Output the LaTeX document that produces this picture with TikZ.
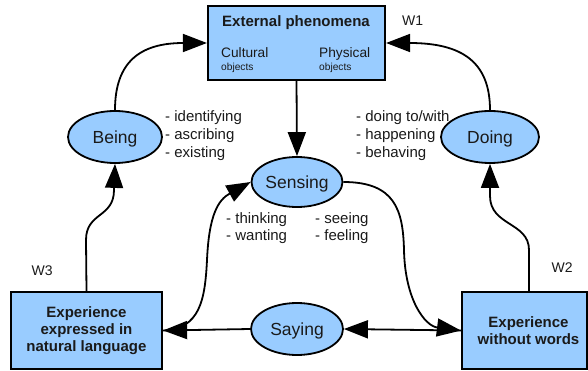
\documentclass[tikz,border=0pt]{standalone}
\usepackage{fontspec}
\setmainfont{Liberation Sans}
\usetikzlibrary{arrows.meta,shapes.geometric}
\definecolor{boxblue}{HTML}{99CCFF}
\definecolor{txt}{HTML}{1A1A1A}
\begin{document}
\begin{tikzpicture}[x=1pt,y=-1pt,
  frame/.style={draw=black,line width=2.2pt,fill=boxblue,rectangle,inner sep=0pt,text=txt},
  oval/.style={draw=black,line width=1.8pt,fill=boxblue,ellipse,inner sep=0pt,text depth=0pt,text=txt,font=\fontsize{17.5}{20}\selectfont},
  conn/.style={line width=1.8pt,-{Triangle[length=24pt,width=18pt]}},
  lbl/.style={inner sep=0pt,anchor=base west,text=txt,font=\fontsize{14}{17}\selectfont},
  item/.style={lbl,font=\fontsize{15}{17}\selectfont},
  small/.style={inner sep=0pt,anchor=base west,text=txt,font=\fontsize{10.2}{12}\selectfont},
  bt/.style={font=\bfseries\fontsize{15}{16.8}\selectfont,align=center}]
\useasboundingbox (0,0) rectangle (588,371);
% boxes
\node[frame,minimum width=177pt,minimum height=74pt] (ext) at (296.5,43) {};
\node[frame,bt,minimum width=151pt,minimum height=77pt] (bl) at (86.5,330.5) {Experience\\expressed in\\natural language};
\node[frame,bt,minimum width=125pt,minimum height=77pt,font=\bfseries\fontsize{15}{17.5}\selectfont] (br) at (524.5,330.5) {\hspace*{8pt}Experience\\\hspace*{8pt}without words};
% texts in the top box
\node[inner sep=0pt,anchor=base,text=txt,font=\bfseries\fontsize{15}{18}\selectfont] (exttitle) at (296,26.7) {External phenomena};
\node[lbl,font=\fontsize{13.7}{16}\selectfont] (cult) at (221,58) {Cultural};
\node[small] (cultobj) at (221,70.6) {objects};
\node[lbl,font=\fontsize{13.7}{16}\selectfont] (phys) at (319,58) {Physical};
\node[small] (physobj) at (319,70.6) {objects};
% ellipses
\node[oval,minimum width=94pt,minimum height=52pt] (being) at (115,137) {Being};
\node[oval,minimum width=98pt,minimum height=52pt] (doing) at (490,137) {Doing};
\node[oval,minimum width=91pt,minimum height=50pt] (sensing) at (297,182) {Sensing};
\node[oval,minimum width=92pt,minimum height=52pt] (saying) at (297,329) {Saying};
% lists
\node[item] (l1) at (165,121.7) {- identifying};
\node[item] (l2) at (165,139.5) {- ascribing};
\node[item] (l3) at (165,157.3) {- existing};
\node[item] (r1) at (356,121.7) {- doing to/with};
\node[item] (r2) at (356,139.5) {- happening};
\node[item] (r3) at (356,157.3) {- behaving};
\node[item] (s1) at (226,223.3) {- thinking};
\node[item] (s2) at (226,240.5) {- wanting};
\node[item] (s3) at (315,223.3) {- seeing};
\node[item] (s4) at (315,240.5) {- feeling};
% W labels
\node[lbl] (w1) at (402,26) {W1};
\node[lbl] (w2) at (551.5,272.7) {W2};
\node[lbl] (w3) at (31.5,275) {W3};
% connectors
\draw[conn] (being.north) .. controls (115,62) and (140,43) .. (ext.west);
\draw[conn] (doing.north) .. controls (490,62) and (462,43) .. (ext.east);
\draw[conn] (ext.south) -- (sensing.north);
\draw[conn] (bl.north) -- (86,240) .. controls (86,212) and (114,218) .. (114,190) -- (being.south);
\draw[conn] ([xshift=4.5pt]br.north) -- (529,250) .. controls (529,222) and (490,226) .. (490,196) -- (doing.south);
\draw[conn] (sensing.east) .. controls (395,182) and (403,210) .. (404,250) .. controls (405,300) and (425,326) .. (br.west);
\draw[conn] (saying.west) -- (bl.east);
\draw[conn] (br.west) -- (saying.east);
\draw[conn] (bl.east) .. controls (200,329) and (205,300) .. (207,260) .. controls (209,215) and (218,200) .. (sensing.west);
\end{tikzpicture}
\end{document}
